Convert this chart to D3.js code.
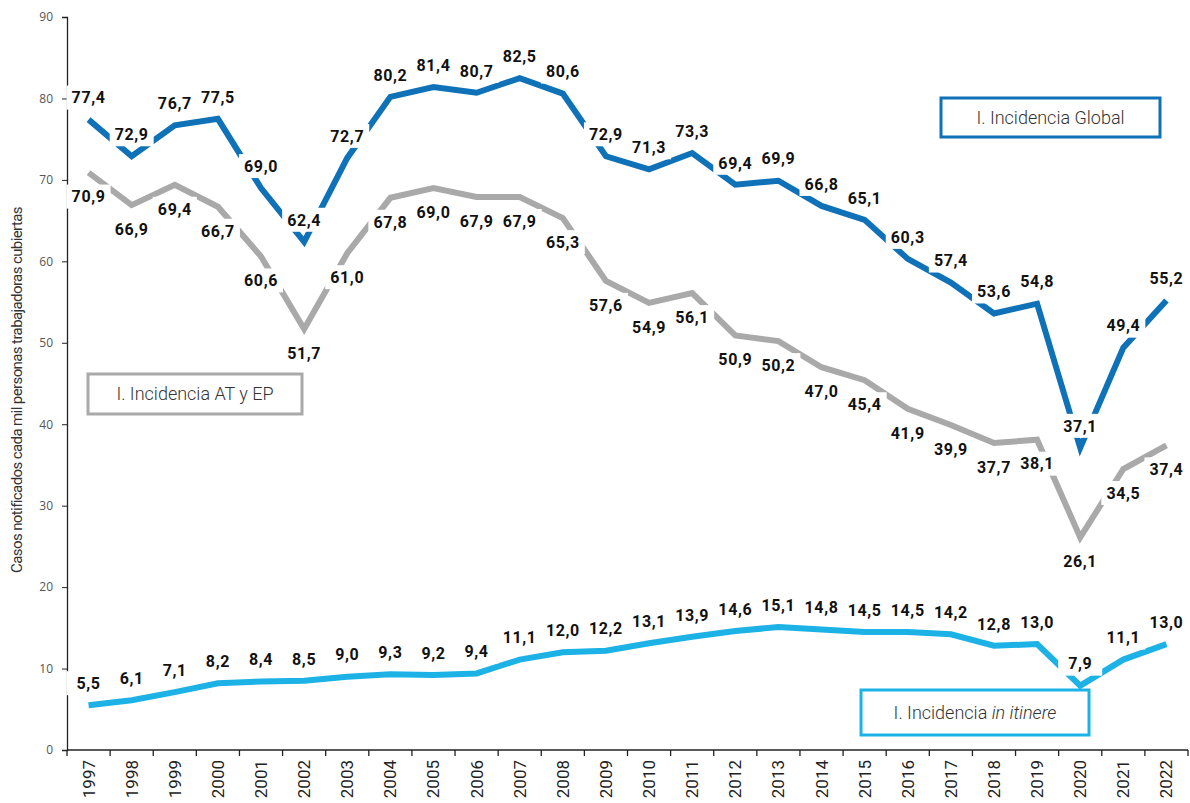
<!DOCTYPE html>
<html>
<head>
<meta charset="utf-8">
<script src="https://cdn.jsdelivr.net/npm/d3@7"></script>
<style>
  body { margin: 0; background: #fff; }
  svg { display: block; font-family: Roboto, "Noto Sans", sans-serif; }
</style>
</head>
<body>
<svg width="1190" height="803"></svg>
<script>
// years on the x axis
var years = ["1997","1998","1999","2000","2001","2002","2003","2004","2005","2006","2007","2008","2009",
             "2010","2011","2012","2013","2014","2015","2016","2017","2018","2019","2020","2021","2022"];

// incidencia global
var global = [77.4, 72.9, 76.7, 77.5, 69.0, 62.4, 72.7, 80.2, 81.4, 80.7, 82.5, 80.6, 72.9,
              71.3, 73.3, 69.4, 69.9, 66.8, 65.1, 60.3, 57.4, 53.6, 54.8, 37.1, 49.4, 55.2];
// incidencia AT y EP
var atep = [70.9, 66.9, 69.4, 66.7, 60.6, 51.7, 61.0, 67.8, 69.0, 67.9, 67.9, 65.3, 57.6,
            54.9, 56.1, 50.9, 50.2, 47.0, 45.4, 41.9, 39.9, 37.7, 38.1, 26.1, 34.5, 37.4];
// incidencia in itinere
var itinere = [5.5, 6.1, 7.1, 8.2, 8.4, 8.5, 9.0, 9.3, 9.2, 9.4, 11.1, 12.0, 12.2,
               13.1, 13.9, 14.6, 15.1, 14.8, 14.5, 14.5, 14.2, 12.8, 13.0, 7.9, 11.1, 13.0];

var yTicks = [0, 10, 20, 30, 40, 50, 60, 70, 80, 90];

var svg = d3.select("svg");

var x = d3.scaleBand().domain(years).range([67, 1188]);
var y = d3.scaleLinear().domain([0, 90]).range([750, 17]);

// y axis
var yAxis = svg.append("g")
    .attr("transform", "translate(67,0)")
    .call(d3.axisLeft(y).tickValues(yTicks).tickSize(5).tickPadding(9));
yAxis.select(".domain").attr("stroke", "#222").attr("stroke-width", 1.3);
yAxis.selectAll(".tick line").attr("stroke", "#222");
yAxis.selectAll(".tick text").attr("font-size", 12).attr("fill", "#555")
    .attr("font-family", "'Open Sans', sans-serif");

// x axis with ticks at the band edges
var xAxis = svg.append("g").attr("transform", "translate(0,750)");
xAxis.append("line").attr("x1", 67).attr("x2", 1188).attr("y1", 0).attr("y2", 0)
    .attr("stroke", "#222").attr("stroke-width", 1.5);
xAxis.selectAll(".xt").data(years.concat(["end"])).enter().append("line")
    .attr("x1", function(d, i) { return i < years.length ? x(d) : x.range()[1]; })
    .attr("x2", function(d, i) { return i < years.length ? x(d) : x.range()[1]; })
    .attr("y1", 0).attr("y2", 6).attr("stroke", "#222").attr("stroke-width", 1.3);
xAxis.selectAll(".xl").data(years).enter().append("text")
    .attr("transform", function(d) { return "translate(" + (x(d) + x.bandwidth() / 2 + 6) + ",10) rotate(-90)"; })
    .attr("text-anchor", "end")
    .attr("font-size", 17).attr("fill", "#222")
    .text(function(d) { return d; });

// y axis title
svg.append("text")
    .attr("transform", "translate(22,390) rotate(-90)")
    .attr("text-anchor", "middle")
    .attr("font-size", 15).attr("fill", "#333")
    .attr("letter-spacing", -0.6)
    .text("Casos notificados cada mil personas trabajadoras cubiertas");

var line = d3.line()
    .x(function(d, i) { return x(years[i]) + x.bandwidth() / 2; })
    .y(function(d) { return y(d); });

var series = [
  { values: atep, color: "#a9a9a9", dy: 24 },
  { values: global, color: "#0f71b7", dy: -22 },
  { values: itinere, color: "#1cb2e6", dy: -22 }
];

series.forEach(function(s) {
  svg.append("path").datum(s.values)
      .attr("d", line)
      .attr("fill", "none")
      .attr("stroke", s.color)
      .attr("stroke-width", 6)
      .attr("stroke-linejoin", "miter");
});

// value labels with white boxes
var fmt = function(v) { return v.toFixed(1).replace(".", ","); };
series.forEach(function(s) {
  var g = svg.append("g");
  var lab = g.selectAll("g").data(s.values).enter().append("g")
      .attr("transform", function(d, i) {
        return "translate(" + (x(years[i]) + x.bandwidth() / 2) + "," + (y(d) + s.dy) + ")";
      });
  lab.append("rect")
      .attr("x", -22).attr("y", -12).attr("width", 44).attr("height", 24)
      .attr("fill", "#fff");
  lab.append("text")
      .attr("text-anchor", "middle")
      .attr("dy", "0.36em")
      .attr("font-size", 16).attr("font-weight", "bold")
      .attr("fill", "#111")
      .attr("letter-spacing", 0.6)
      .text(fmt);
});

// legend boxes
function legendBox(x0, y0, w, h, color, parts) {
  svg.append("rect").attr("x", x0).attr("y", y0).attr("width", w).attr("height", h)
      .attr("fill", "#fff").attr("stroke", color).attr("stroke-width", 3);
  var t = svg.append("text")
      .attr("x", x0 + w / 2).attr("y", y0 + h / 2).attr("dy", "0.36em")
      .attr("text-anchor", "middle")
      .attr("font-size", 18).attr("font-weight", 300).attr("fill", "#333");
  parts.forEach(function(p) {
    t.append("tspan").attr("font-style", p.italic ? "italic" : "normal").text(p.text);
  });
}
legendBox(941, 98, 219, 39, "#0f71b7", [{ text: "I. Incidencia Global" }]);
legendBox(88, 374, 214, 40, "#a9a9a9", [{ text: "I. Incidencia AT y EP" }]);
legendBox(861, 690, 228, 45, "#1cb2e6", [{ text: "I. Incidencia " }, { text: "in itinere", italic: true }]);
</script>
</body>
</html>
